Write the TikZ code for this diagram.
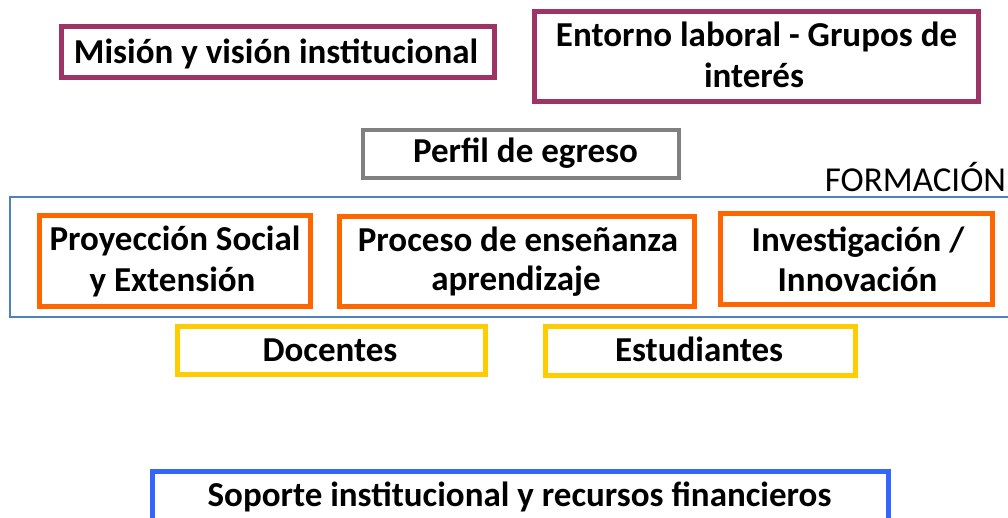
\documentclass[tikz,border=0pt]{standalone}
\usepackage{fontspec}
\setmainfont{Carlito}
\definecolor{cpurple}{RGB}{158,52,101}
\definecolor{cgray}{RGB}{128,128,128}
\definecolor{csteel}{RGB}{79,129,189}
\definecolor{corange}{RGB}{255,102,0}
\definecolor{cyellow}{RGB}{255,204,0}
\definecolor{cblue}{RGB}{51,102,255}
\tikzset{
  frame/.style={draw, line width=5pt, inner sep=0pt, fill=white},
  framepurple/.style={frame, draw=cpurple},
  framegray/.style={frame, draw=cgray, line width=4pt},
  frameorange/.style={frame, draw=corange},
  frameyellow/.style={frame, draw=cyellow},
  frameblue/.style={frame, draw=cblue},
  txt/.style={font=\bfseries\fontsize{35}{42}\selectfont, inner sep=0pt, anchor=base, text=black},
  lbl/.style={font=\fontsize{35}{42}\selectfont, inner sep=0pt, anchor=base, text=black},
}
\begin{document}
\begin{tikzpicture}[x=1pt,y=-1pt]
\useasboundingbox[fill=white] (0,0) rectangle (1008,517);
% formation frame
\draw[csteel, line width=2pt] (10.3,197) rectangle (1015,316.7);
% boxes
\node[framepurple, minimum width=433pt, minimum height=51pt] (mision) at (278,52) {};
\node[framepurple, minimum width=444pt, minimum height=90pt] (entorno) at (756.5,56.5) {};
\node[framegray, minimum width=316pt, minimum height=48pt] (perfil) at (521,154) {};
\node[frameorange, minimum width=271.6pt, minimum height=91.3pt] (proy) at (175,260.85) {};
\node[frameorange, minimum width=355pt, minimum height=90pt] (proc) at (516.7,261.5) {};
\node[frameorange, minimum width=271.7pt, minimum height=91.6pt] (inv) at (856.65,259) {};
\node[frameyellow, minimum width=308pt, minimum height=48pt] (doc) at (331.5,350.8) {};
\node[frameyellow, minimum width=310.6pt, minimum height=49pt] (est) at (700.5,351.3) {};
\node[frameblue, minimum width=736pt, minimum height=60pt] (sop) at (520.5,501.8) {};
% texts
\node[txt] (tmision) at (276,63.3) {Misión y visión institucional};
\node[txt] (tentorno1) at (756.5,46.7) {Entorno laboral - Grupos de};
\node[txt] (tentorno2) at (754,87.3) {interés};
\node[txt] (tperfil) at (525.5,162) {Perfil de egreso};
\node[lbl] (tform) at (915.5,191.7) {FORMACIÓN};
\node[txt] (tproy1) at (175,250) {Proyección Social};
\node[txt] (tproy2) at (172.5,291.7) {y Extensión};
\node[txt] (tproc1) at (518,251.7) {Proceso de enseñanza};
\node[txt] (tproc2) at (516,290) {aprendizaje};
\node[txt] (tinv1) at (858,251) {Investigación /};
\node[txt] (tinv2) at (857.5,291.7) {Innovación};
\node[txt] (tdoc) at (330,361.7) {Docentes};
\node[txt] (test) at (699,361.7) {Estudiantes};
\node[txt] (tsop) at (519.5,506.7) {Soporte institucional y recursos financieros};
\end{tikzpicture}
\end{document}
